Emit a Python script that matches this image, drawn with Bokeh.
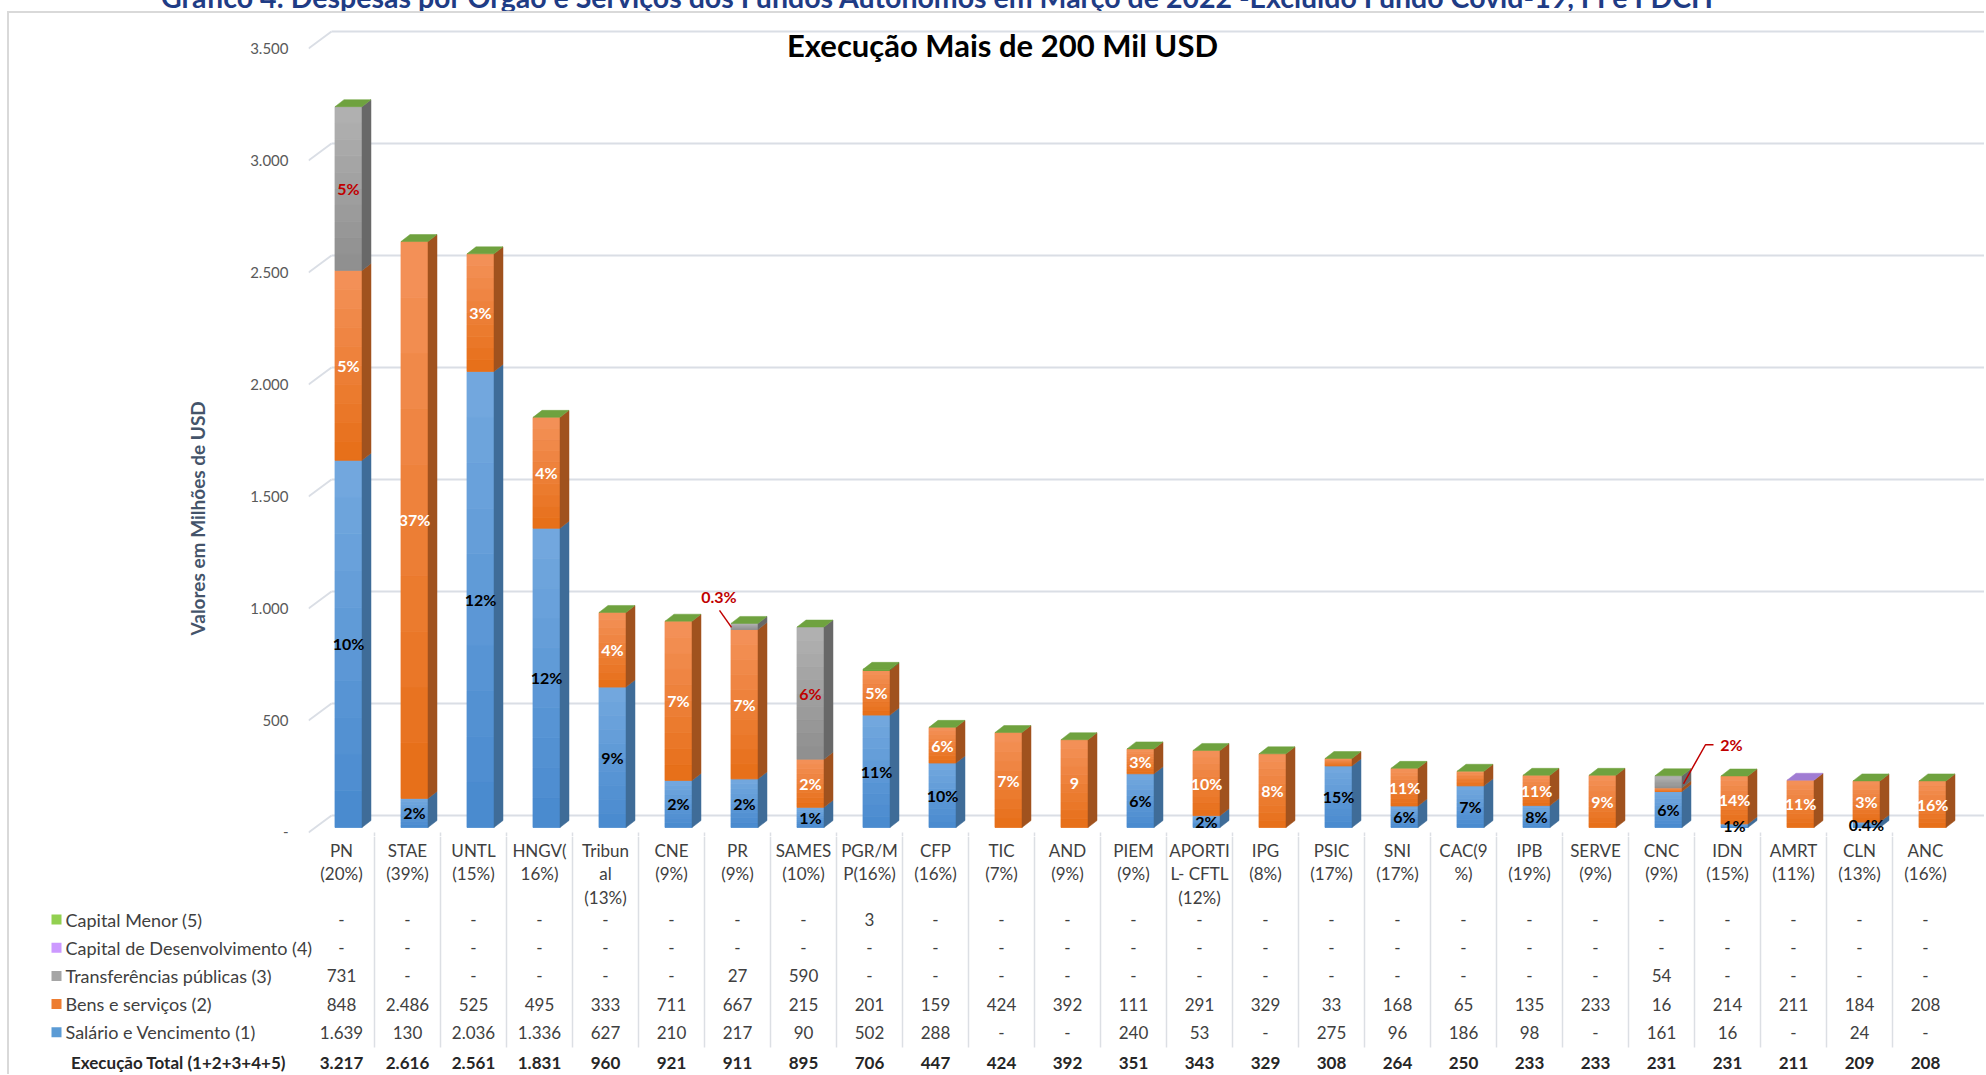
import numpy as np
from bokeh.plotting import figure
from bokeh.models import Range1d, FixedTicker, Label, Title, Div
from bokeh.layouts import column
from bokeh.core.properties import value
from bokeh.embed import file_html
from bokeh.resources import INLINE

# ---------------- data ----------------
categories = ["PN\n(20%)", "STAE\n(39%)", "UNTL\n(15%)", "HNGV(\n16%)", "Tribun\nal\n(13%)",
              "CNE\n(9%)", "PR\n(9%)", "SAMES\n(10%)", "PGR/M\nP(16%)", "CFP\n(16%)",
              "TIC\n(7%)", "AND\n(9%)", "PIEM\n(9%)", "APORTI\nL- CFTL\n(12%)", "IPG\n(8%)",
              "PSIC\n(17%)", "SNI\n(17%)", "CAC(9\n%)", "IPB\n(19%)", "SERVE\n(9%)",
              "CNC\n(9%)", "IDN\n(15%)", "AMRT\n(11%)", "CLN\n(13%)", "ANC\n(16%)"]
salario = [1639, 130, 2036, 1336, 627, 210, 217, 90, 502, 288, 0, 0, 240, 53, 0,
           275, 96, 186, 98, 0, 161, 16, 0, 24, 0]
bens = [848, 2486, 525, 495, 333, 711, 667, 215, 201, 159, 424, 392, 111, 291, 329,
        33, 168, 65, 135, 233, 16, 214, 211, 184, 208]
transferencias = [731, 0, 0, 0, 0, 0, 27, 590, 0, 0, 0, 0, 0, 0, 0,
                  0, 0, 0, 0, 0, 54, 0, 0, 0, 0]
capital_desenv = [0] * 25
capital_menor = [0, 0, 0, 0, 0, 0, 0, 0, 3, 0, 0, 0, 0, 0, 0,
                 0, 0, 0, 0, 0, 0, 0, 0, 0, 0]
execucao_total = [3217, 2616, 2561, 1831, 960, 921, 911, 895, 706, 447, 424, 392, 351, 343, 329,
                  308, 264, 250, 233, 233, 231, 231, 211, 209, 208]
pct_salario = ["10%", "2%", "12%", "12%", "9%", "2%", "2%", "1%", "11%", "10%", "", "", "6%", "2%", "",
               "15%", "6%", "7%", "8%", "", "6%", "1%", "", "0.4%", ""]
pct_bens = ["5%", "37%", "3%", "4%", "4%", "7%", "7%", "2%", "5%", "6%", "7%", "9", "3%", "10%", "8%",
            "", "11%", "", "11%", "9%", "", "14%", "11%", "3%", "16%"]
pct_transf = ["5%", "", "", "", "", "", "0.3%", "6%", "", "", "", "", "", "", "",
              "", "", "", "", "", "2%", "", "", "", ""]
series_names = ["Capital Menor (5)", "Capital de Desenvolvimento (4)", "Transferências públicas (3)",
                "Bens e serviços (2)", "Salário e Vencimento (1)"]
total_label = "Execução Total (1+2+3+4+5)"
y_ticks = [0, 500, 1000, 1500, 2000, 2500, 3000, 3500]
page_title = ("Gráfico 4: Despesas por Órgão e Serviços dos Fundos Autónomos em Março de 2022 "
              "-Excluido Fundo Covid-19, FI e FDCH")
chart_title = "Execução Mais de 200 Mil USD"
y_title = "Valores em Milhões de USD"

# ---------------- layout constants (page pixels) ----------------
FONT = value("Lato")
BORDER = 2
MARGIN_TOP, MARGIN_LEFT = 11, 7
LEFT_PAGE = MARGIN_LEFT + BORDER     # page x where figures start
TOP_PAGE = MARGIN_TOP + BORDER       # page y where chart figure starts
W = 1975
H1, H2 = 823, 238
FRAME1_LEFT = 308       # page x of the chart frame
PX_CAT = 66.0           # px per category
PX_UNIT = 0.224         # px per value unit
ZERO_PAGE_Y = 832
FRAME_RIGHT = LEFT_PAGE + W

X1_START = -0.5
X1_END = X1_START + (FRAME_RIGHT - FRAME1_LEFT) / PX_CAT
Y1_START = -(TOP_PAGE + H1 - ZERO_PAGE_Y) / PX_UNIT
Y1_END = (ZERO_PAGE_Y - TOP_PAGE) / PX_UNIT
X2_START = X1_START - (FRAME1_LEFT - LEFT_PAGE) / PX_CAT

n = len(categories)
idx = np.arange(n)

# bar geometry (front face sits a little behind the label plane)
OFF = 7 / PX_CAT
LIFT = 5 / PX_UNIT
HALF = 13.5 / PX_CAT
DX = 9 / PX_CAT
DY = 7 / PX_UNIT

# colors (top, bottom, side)
BLUE = ("#74A9DF", "#4889CE", "#3F6C98")
ORANGE = ("#F4925A", "#E66E17", "#A0521E")
GRAY = ("#B2B2B2", "#8E8E8E", "#686868")
PURPLE = ("#B18FDB", "#9470C7", "#6E4F99")
GREEN = ("#7BB04A", "#6A9E3B", "#4F7A2A")
GREEN_TOP = "#6FA23F"
PURPLE_TOP = "#A07CD3"
top_face_override = {"AMRT": PURPLE_TOP}
legend_colors = ["#92D050", "#CC99FF", "#A5A5A5", "#ED7D31", "#5B9BD5"]
RED = "#C00000"
TEXT = "#404040"
SEP = "#DCDFE4"


def hex2rgb(h):
    h = h.lstrip("#")
    return np.array([int(h[i:i + 2], 16) for i in (0, 2, 4)], float)


def mix(c_bottom, c_top, t):
    a, b = hex2rgb(c_bottom), hex2rgb(c_top)
    c = a + (b - a) * t
    return "#%02x%02x%02x" % tuple(int(round(v)) for v in c)


def fmt(v):
    return "-" if v == 0 else f"{v:,}".replace(",", ".")


# ---------------- chart figure ----------------
p1 = figure(width=W, height=H1, x_range=Range1d(X1_START, X1_END), y_range=Range1d(Y1_START, Y1_END),
            output_backend="svg", toolbar_location=None, x_axis_location=None,
            min_border_left=FRAME1_LEFT - LEFT_PAGE, min_border_right=0, min_border_top=0,
            min_border_bottom=0, outline_line_color=None, background_fill_color="white",
            border_fill_color="white")
p1.grid.visible = False
ax = p1.yaxis[0]
ax.ticker = FixedTicker(ticks=y_ticks)
ax.major_label_overrides = {t: fmt(t) for t in y_ticks}
ax.axis_line_color = None
ax.major_tick_line_color = None
ax.minor_tick_line_color = None
ax.major_tick_out = 0
ax.major_label_standoff = 20
ax.major_label_text_font = "Lato"
ax.major_label_text_font_size = "15px"
ax.major_label_text_color = "#595959"

p1.add_layout(Title(text=y_title, align="left", offset=201, standoff=78, text_font="Lato",
                    text_font_style="bold", text_font_size="19px", text_color="#44546A"), "left")

# back wall grid lines with floor diagonals
gdx = 23 / PX_CAT
gdy = 17 / PX_UNIT
yt = np.array(y_ticks, float)
p1.segment(x0=[X1_START + gdx] * len(yt), y0=yt + gdy, x1=[X1_END] * len(yt), y1=yt + gdy,
           line_color="#DADEE5", line_width=2)
p1.segment(x0=[X1_START] * len(yt), y0=yt, x1=[X1_START + gdx] * len(yt), y1=yt + gdy,
           line_color="#DADEE5", line_width=2)

# separators under the floor
seps = idx[:-1] + 0.5
p1.segment(x0=seps, y0=[Y1_START] * len(seps), x1=seps, y1=[0] * len(seps),
           line_color=SEP, line_width=1.5)

# stacked 3D bars
N_BANDS = 10
series = [(salario, BLUE), (bens, ORANGE), (transferencias, GRAY),
          (capital_desenv, PURPLE), (capital_menor, GREEN)]
base = np.zeros(n)
ql, qr, qb, qt, qc = [], [], [], [], []
sxs, sys, scs = [], [], []
centers = []
for vals, (c_top, c_bot, c_side) in series:
    vals = np.array(vals, float)
    centers.append(base + vals / 2 + LIFT)
    for i in range(n):
        if vals[i] <= 0:
            continue
        y0, y1 = base[i] + LIFT, base[i] + vals[i] + LIFT
        xl, xr = i + OFF - HALF, i + OFF + HALF
        for k in range(N_BANDS):
            b0 = y0 + (y1 - y0) * k / N_BANDS
            b1 = y0 + (y1 - y0) * (k + 1) / N_BANDS
            ql.append(xl); qr.append(xr); qb.append(b0); qt.append(b1)
            qc.append(mix(c_bot, c_top, (k + 0.5) / N_BANDS))
        sxs.append([xr, xr + DX, xr + DX, xr])
        sys.append([y0, y0 + DY, y1 + DY, y1])
        scs.append(c_side)
    base = base + vals

p1.quad(left=ql, right=qr, bottom=qb, top=qt, fill_color=qc, line_color=qc, line_width=0.8)
p1.patches(xs=sxs, ys=sys, fill_color=scs, line_color=scs, line_width=0.5)

tops = base + LIFT
txs, tys, tcs = [], [], []
for i in range(n):
    T = tops[i]
    xl, xr = i + OFF - HALF, i + OFF + HALF
    name = categories[i].split("\n")[0].rstrip("(")
    txs.append([xl, xl + DX, xr + DX, xr])
    tys.append([T, T + DY, T + DY, T])
    tcs.append(top_face_override.get(name, GREEN_TOP))
p1.patches(xs=txs, ys=tys, fill_color=tcs, line_color=tcs, line_width=0.5)

# segment percentage labels
callouts = {
    6: dict(label=(-18.5, 27), leader=[(-18, 13), (-6, -4)]),
    20: dict(label=(70, 31), leader=[(22, -8), (44, 31), (52, 31)]),
}
lx, ly, lt, lc = [], [], [], []
for labels, cen, color in [(pct_salario, centers[0], "#000000"),
                           (pct_bens, centers[1], "#FFFFFF"),
                           (pct_transf, centers[2], RED)]:
    for i in range(n):
        if not labels[i]:
            continue
        if color == RED and i in callouts:
            continue
        lx.append(i + OFF); ly.append(cen[i]); lt.append(labels[i]); lc.append(color)
p1.text(x=lx, y=ly, text=lt, text_color=lc, text_font=FONT, text_font_style="bold",
        text_font_size="16px", text_align="center", text_baseline="middle")

cx, cy, ct, mlx, mly = [], [], [], [], []
for i, c in callouts.items():
    T = tops[i]
    cx.append(i + c["label"][0] / PX_CAT)
    cy.append(T + c["label"][1] / PX_UNIT)
    ct.append(pct_transf[i])
    mlx.append([i + dx / PX_CAT for dx, dy in c["leader"]])
    mly.append([T + dy / PX_UNIT for dx, dy in c["leader"]])
p1.multi_line(xs=mlx, ys=mly, line_color=RED, line_width=1.5)
p1.text(x=cx, y=cy, text=ct, text_color=RED, text_font=FONT, text_font_style="bold",
        text_font_size="16px", text_align="center", text_baseline="middle")

# chart title
p1.add_layout(Label(x=(1002 - FRAME1_LEFT) / PX_CAT + X1_START, y=(ZERO_PAGE_Y - 44.5) / PX_UNIT,
                    text=chart_title, text_font="Lato", text_font_style="bold",
                    text_font_size="31px", text_color="#000000", text_align="center",
                    text_baseline="middle"))

# ---------------- data table figure ----------------
p2 = figure(width=W, height=H2, x_range=Range1d(X2_START, X1_END), y_range=Range1d(H2, 0),
            output_backend="svg", toolbar_location=None, x_axis_location=None,
            y_axis_location=None, min_border=0, min_border_left=0, min_border_right=0,
            min_border_top=0, min_border_bottom=0, outline_line_color=None,
            background_fill_color="white", border_fill_color="white")
p2.grid.visible = False


def xd(page_x):
    return X2_START + (page_x - LEFT_PAGE) / PX_CAT


p2.segment(x0=seps, y0=[0] * len(seps), x1=seps, y1=[211] * len(seps),
           line_color=SEP, line_width=1.5)

p2.text(x=idx, y=[3] * n, text=categories, text_font=FONT, text_font_size="17px",
        text_color=TEXT, text_align="center", text_baseline="top", text_line_height=1.13)

ROW0, ROW_STEP = 83, 28.2
rows = [capital_menor, capital_desenv, transferencias, bens, salario]
row_y = [ROW0 + ROW_STEP * k for k in range(len(rows))]
TOTAL_Y = 226

vx, vy, vt = [], [], []
for r, vals in zip(row_y, rows):
    for i in range(n):
        vx.append(i); vy.append(r); vt.append(fmt(vals[i]))
p2.text(x=vx, y=vy, text=vt, text_font=FONT, text_font_size="17px", text_color=TEXT,
        text_align="center", text_baseline="middle")
p2.text(x=idx, y=[TOTAL_Y] * n, text=[fmt(v) for v in execucao_total], text_font=FONT,
        text_font_style="bold", text_font_size="17px", text_color="#262626",
        text_align="center", text_baseline="middle")

# row labels with colour keys
p2.scatter(x=[xd(56)] * len(row_y), y=row_y, marker="square", size=10,
           fill_color=legend_colors, line_color=None)
p2.text(x=[xd(65)] * len(row_y), y=row_y, text=series_names, text_font=FONT,
        text_font_size="18px", text_color=TEXT, text_align="left", text_baseline="middle")
p2.text(x=[xd(178)], y=[TOTAL_Y], text=[total_label], text_font=FONT, text_font_style="bold",
        text_font_size="17px", text_color="#262626", text_align="center", text_baseline="middle")

# ---------------- page assembly ----------------
title_div = Div(text=f'<span style="position:relative; top:-17px; left:161px; white-space:nowrap; '
                     f'font-family:Lato; font-weight:bold; font-size:28.5px; line-height:28.5px; '
                     f'color:#1F3C85;">{page_title}</span>',
                width=1980, height=MARGIN_TOP, margin=0, styles={"overflow": "hidden"})
top_block = column(p1, margin=(0, 0, 0, MARGIN_LEFT),
                   styles={"border-left": f"{BORDER}px solid #D9D9D9",
                           "border-top": f"{BORDER}px solid #D9D9D9"})
bottom_block = column(p2, margin=(0, 0, 0, MARGIN_LEFT),
                      styles={"border-left": f"{BORDER}px solid #D9D9D9"})
open("out.html", "w").write(file_html([title_div, top_block, bottom_block], INLINE, "chart"))
